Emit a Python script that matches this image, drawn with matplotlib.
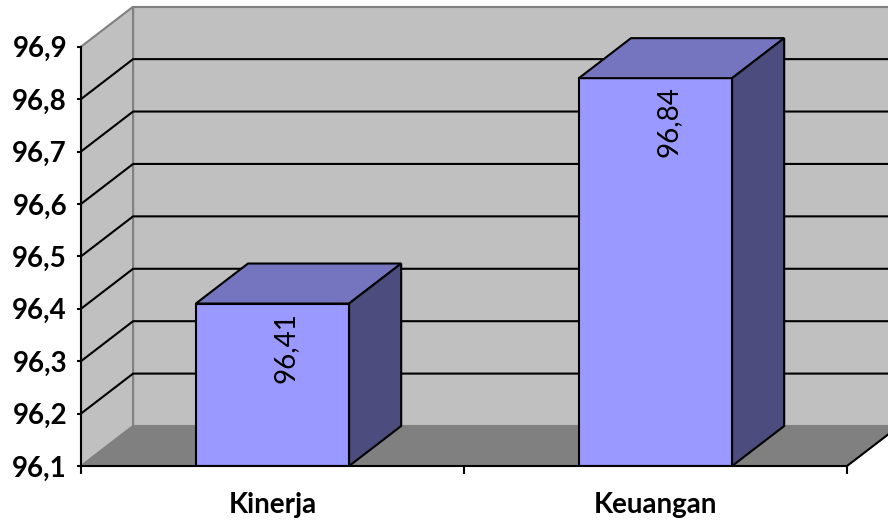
import matplotlib.pyplot as plt
from matplotlib.patches import Polygon

plt.rcParams['font.family'] = ['Lato', 'DejaVu Sans']

categories = ['Kinerja', 'Keuangan']
values = [96.41, 96.84]
y_ticks = [96.1, 96.2, 96.3, 96.4, 96.5, 96.6, 96.7, 96.8, 96.9]
y_tick_labels = ['96,1', '96,2', '96,3', '96,4', '96,5', '96,6', '96,7', '96,8', '96,9']
value_labels = ['96,41', '96,84']

ymin, ymax = 96.1, 96.9
x_left, x_right = -0.5, 1.5
dx, dy = 0.136, 0.0763  # depth offset of the 3d box
bar_w = 0.4

fig = plt.figure(figsize=(8.88, 5.25), dpi=100)
ax = fig.add_axes([81 / 888, (525 - 466) / 525, 766 / 888, (466 - 46.7) / 525])
ax.set_xlim(x_left, x_right)
ax.set_ylim(ymin, ymax)
ax.patch.set_visible(False)

# back wall, side wall, floor
ax.add_patch(Polygon([(x_left + dx, ymin + dy), (x_right + dx, ymin + dy),
                      (x_right + dx, ymax + dy), (x_left + dx, ymax + dy)],
                     closed=True, fc='#c0c0c0', ec='#808080', lw=1.5, clip_on=False, zorder=0))
ax.add_patch(Polygon([(x_left, ymin), (x_left + dx, ymin + dy),
                      (x_left + dx, ymax + dy), (x_left, ymax)],
                     closed=True, fc='#c0c0c0', ec='#808080', lw=1.5, clip_on=False, zorder=0))
ax.add_patch(Polygon([(x_left, ymin), (x_right, ymin),
                      (x_right + dx, ymin + dy), (x_left + dx, ymin + dy)],
                     closed=True, fc='#808080', ec='#808080', lw=1, clip_on=False, zorder=1))
ax.plot([x_right, x_right + dx], [ymin, ymin + dy], color='black', lw=1.5,
        clip_on=False, zorder=2)

# gridlines on side and back wall
for t in y_ticks[1:-1]:
    ax.plot([x_left, x_left + dx, x_right + dx], [t, t + dy, t + dy],
            color='black', lw=1.5, clip_on=False, zorder=1)

front = '#9999ff'
top = '#7575bf'
side = '#4c4c7f'
xs = range(len(categories))
ax.bar(xs, [v - ymin for v in values], bottom=ymin, width=bar_w,
       color=front, edgecolor='black', lw=1.5, zorder=4)
for x, v, lab in zip(xs, values, value_labels):
    l, r = x - bar_w / 2, x + bar_w / 2
    ax.add_patch(Polygon([(l, v), (r, v), (r + dx, v + dy), (l + dx, v + dy)],
                         closed=True, fc=top, ec='black', lw=1.5, clip_on=False, zorder=4))
    ax.add_patch(Polygon([(r, ymin), (r + dx, ymin + dy), (r + dx, v + dy), (r, v)],
                         closed=True, fc=side, ec='black', lw=1.5, clip_on=False, zorder=4))
    ax.annotate(lab, (x + 0.034, v), xytext=(0, -6), textcoords='offset points',
                rotation=90, ha='center', va='top', fontsize=20, zorder=6)

for s in ['top', 'right']:
    ax.spines[s].set_visible(False)
for s in ['left', 'bottom']:
    ax.spines[s].set_linewidth(1.5)
    ax.spines[s].set_zorder(5)

ax.set_yticks(y_ticks)
ax.set_yticklabels(y_tick_labels, fontsize=20, fontweight='bold')
ax.tick_params(axis='y', length=3, width=1.5, pad=7)
ax.set_xticks(list(xs))
ax.set_xticklabels(categories, fontsize=20, fontweight='bold')
ax.tick_params(axis='x', which='major', length=0, pad=19)
ax.set_xticks([-0.5, 0.5, 1.5], minor=True)
ax.tick_params(axis='x', which='minor', length=6, width=1.5)

fig.savefig('out.png', dpi=100)
